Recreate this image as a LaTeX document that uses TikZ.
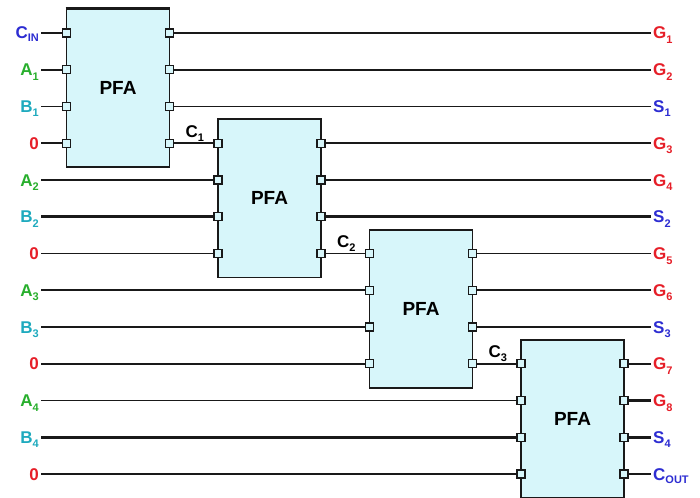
\documentclass[tikz,border=0pt]{standalone}
\usepackage{fontspec}
\setmainfont{Liberation Sans}
\pgfdeclarelayer{background}
\pgfsetlayers{background,main}
\definecolor{boxfill}{RGB}{215,246,250}
\definecolor{lblue}{RGB}{45,45,210}
\definecolor{lgreen}{RGB}{40,175,45}
\definecolor{lcyan}{RGB}{30,170,190}
\definecolor{lred}{RGB}{230,30,40}
\definecolor{wirecol}{RGB}{25,25,25}
\newcommand{\lsub}[1]{\raisebox{-4.5pt}{\fontsize{11}{11}\selectfont #1}}
\newcommand{\wsub}[1]{\raisebox{-3pt}{\fontsize{11}{11}\selectfont #1}}
\begin{document}
\begin{tikzpicture}[x=1pt,y=-1pt,
  pfa/.style={draw=wirecol, line width=1.8pt, fill=boxfill, minimum width=103pt, minimum height=158pt, inner sep=0pt, font=\fontsize{19}{19}\selectfont\bfseries},
  port/.style={draw=wirecol, line width=1.4pt, fill=boxfill, minimum size=8pt, inner sep=0pt},
  wire/.style={line width=1.8pt, wirecol},
  thickwire/.style={line width=2.8pt, wirecol},
  lbl/.style={font=\fontsize{17}{17}\selectfont\bfseries, inner sep=2pt, text height=12pt, text depth=0pt},
  lleft/.style={lbl, anchor=east},
  lright/.style={lbl, anchor=west},
  clbl/.style={font=\fontsize{17}{17}\selectfont\bfseries, inner sep=1.5pt, above, xshift=1pt}
]
\useasboundingbox (0,0) rectangle (700,497);
\begin{pgfonlayer}{background}
\fill[white] (0,0) rectangle (700,497);
\end{pgfonlayer}

% boxes
\node[pfa] (b1) at (118,88.1) {PFA};
\node[pfa] (b2) at (269.5,198.4) {PFA};
\node[pfa] (b3) at (421,308.6) {PFA};
\node[pfa] (b4) at (572.5,418.9) {PFA};
\draw[line width=3pt, wirecol] (b1.north west) -- (b1.north east);

% ports
\foreach \k/\lx/\rx in {1/66.5/169.5, 2/218/321, 3/369.5/472.5, 4/521/624} {
  \foreach \j in {1,2,3,4} {
    \pgfmathsetmacro\yy{33+36.75*(3*(\k-1)+\j-1)}
    \node[port] (b\k i\j) at (\lx,\yy) {};
    \node[port] (b\k o\j) at (\rx,\yy) {};
  }
}

% left labels
\node[lleft, text=lblue]  (lin1)  at (41,33)     {C\wsub{IN}};
\node[lleft, text=lgreen] (lin2)  at (41,69.75)  {A\lsub{1}};
\node[lleft, text=lcyan]  (lin3)  at (41,106.5)  {B\lsub{1}};
\node[lleft, text=lred]   (lin4)  at (41,143.25) {0};
\node[lleft, text=lgreen] (lin5)  at (41,180)    {A\lsub{2}};
\node[lleft, text=lcyan]  (lin6)  at (41,216.75) {B\lsub{2}};
\node[lleft, text=lred]   (lin7)  at (41,253.5)  {0};
\node[lleft, text=lgreen] (lin8)  at (41,290.25) {A\lsub{3}};
\node[lleft, text=lcyan]  (lin9)  at (41,327)    {B\lsub{3}};
\node[lleft, text=lred]   (lin10) at (41,363.75) {0};
\node[lleft, text=lgreen] (lin11) at (41,400.5)  {A\lsub{4}};
\node[lleft, text=lcyan]  (lin12) at (41,437.25) {B\lsub{4}};
\node[lleft, text=lred]   (lin13) at (41,474)    {0};

% right labels
\node[lright, text=lred]  (lout1)  at (651,33)     {G\lsub{1}};
\node[lright, text=lred]  (lout2)  at (651,69.75)  {G\lsub{2}};
\node[lright, text=lblue] (lout3)  at (651,106.5)  {S\lsub{1}};
\node[lright, text=lred]  (lout4)  at (651,143.25) {G\lsub{3}};
\node[lright, text=lred]  (lout5)  at (651,180)    {G\lsub{4}};
\node[lright, text=lblue] (lout6)  at (651,216.75) {S\lsub{2}};
\node[lright, text=lred]  (lout7)  at (651,253.5)  {G\lsub{5}};
\node[lright, text=lred]  (lout8)  at (651,290.25) {G\lsub{6}};
\node[lright, text=lblue] (lout9)  at (651,327)    {S\lsub{3}};
\node[lright, text=lred]  (lout10) at (651,363.75) {G\lsub{7}};
\node[lright, text=lred]  (lout11) at (651,400.5)  {G\lsub{8}};
\node[lright, text=lblue] (lout12) at (651,437.25) {S\lsub{4}};
\node[lright, text=lblue] (lout13) at (651,474)    {C\wsub{OUT}};

% carry labels
\path (b1o4) -- node[clbl] (c1) {C\lsub{1}} (b2i1);
\path (b2o4) -- node[clbl] (c2) {C\lsub{2}} (b3i1);
\path (b3o4) -- node[clbl] (c3) {C\lsub{3}} (b4i1);

\begin{pgfonlayer}{background}
  % inputs
  \draw[thickwire] (lin1.east) -- (b1i1);
  \draw[wire] (lin2.east) -- (b1i2);
  \draw[wire] (lin3.east) -- (b1i3);
  \draw[wire] (lin4.east) -- (b1i4);
  \draw[wire] (lin5.east) -- (b2i2);
  \draw[thickwire] (lin6.east) -- (b2i3);
  \draw[wire] (lin7.east) -- (b2i4);
  \draw[wire] (lin8.east) -- (b3i2);
  \draw[wire] (lin9.east) -- (b3i3);
  \draw[wire] (lin10.east) -- (b3i4);
  \draw[wire] (lin11.east) -- (b4i2);
  \draw[thickwire] (lin12.east) -- (b4i3);
  \draw[wire] (lin13.east) -- (b4i4);
  % carries
  \draw[wire] (b1o4) -- (b2i1);
  \draw[wire] (b2o4) -- (b3i1);
  \draw[wire] (b3o4) -- (b4i1);
  % outputs
  \draw[thickwire] (b1o1) -- (lout1.west);
  \draw[wire] (b1o2) -- (lout2.west);
  \draw[wire] (b1o3) -- (lout3.west);
  \draw[wire] (b2o1) -- (lout4.west);
  \draw[wire] (b2o2) -- (lout5.west);
  \draw[thickwire] (b2o3) -- (lout6.west);
  \draw[wire] (b3o1) -- (lout7.west);
  \draw[wire] (b3o2) -- (lout8.west);
  \draw[wire] (b3o3) -- (lout9.west);
  \draw[wire] (b4o1) -- (lout10.west);
  \draw[thickwire] (b4o2) -- (lout11.west);
  \draw[thickwire] (b4o3) -- (lout12.west);
  \draw[wire] (b4o4) -- (lout13.west);
\end{pgfonlayer}
\end{tikzpicture}
\end{document}
